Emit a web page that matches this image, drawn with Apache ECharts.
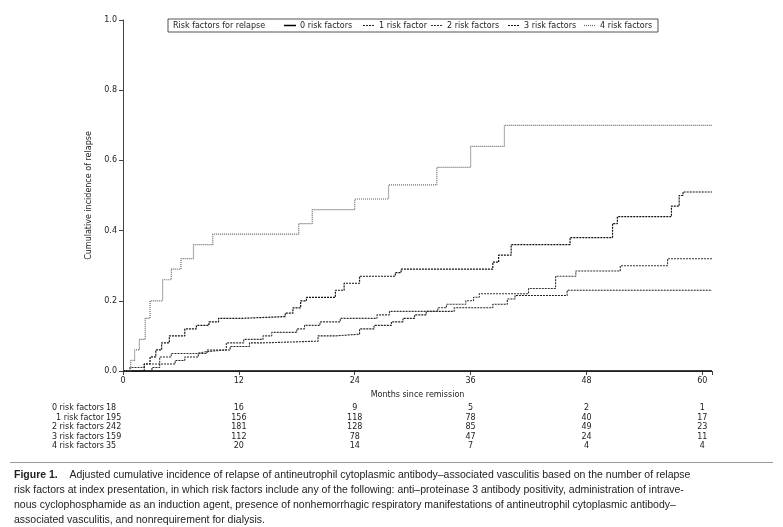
<!DOCTYPE html>
<html><head><meta charset="utf-8">
<script src="https://cdn.jsdelivr.net/npm/echarts@6/dist/echarts.min.js"></script>
<style>body{margin:0;background:#fff}#c{width:783px;height:527px}</style>
</head><body><div id="c"></div>
<script>
// step points: [month, cumulative incidence]
const rf0 = [[0, 0], [61, 0]];
const rf1 = [[0,0],[3,0.01],[3.8,0.02],[5.4,0.03],[6.4,0.04],[7.8,0.05],[8.7,0.06],[11.1,0.07],[13.1,0.08],[14.3,0.085],[20.2,0.1],[22,0.105],[24.5,0.12],[26,0.13],[27.8,0.14],[29,0.15],[30.2,0.16],[31.4,0.17],[34.3,0.18],[38.3,0.19],[39.8,0.205],[40.6,0.215],[46,0.23],[61,0.23]];
const rf2 = [[0,0],[0.7,0.01],[2.2,0.02],[3.8,0.04],[5,0.05],[7.6,0.055],[8.6,0.06],[10.7,0.08],[12.5,0.09],[14.5,0.1],[15.4,0.11],[18,0.12],[18.8,0.13],[20.4,0.14],[22.5,0.15],[26.3,0.16],[27.6,0.17],[32.6,0.18],[33.5,0.19],[35.5,0.2],[36.3,0.21],[36.9,0.22],[42,0.235],[44.8,0.27],[46.9,0.285],[51.5,0.3],[56.4,0.32],[61,0.32]];
const rf3 = [[0,0],[2.2,0.02],[2.8,0.04],[3.4,0.06],[4,0.08],[4.8,0.1],[6.4,0.12],[7.6,0.13],[8.9,0.14],[9.9,0.15],[12.3,0.155],[16.8,0.165],[17.6,0.18],[18.4,0.2],[19,0.21],[22,0.23],[22.9,0.25],[24.5,0.27],[28.2,0.28],[28.8,0.29],[38.3,0.31],[38.9,0.33],[40.2,0.36],[46.3,0.38],[50.7,0.42],[51.2,0.44],[56.8,0.47],[57.6,0.5],[58,0.51],[61,0.51]];
const rf4 = [[0,0],[0.8,0.03],[1.2,0.06],[1.7,0.09],[2.3,0.15],[2.8,0.2],[4.1,0.26],[5,0.29],[6,0.32],[7.3,0.36],[9.3,0.39],[18.2,0.42],[19.6,0.46],[24,0.49],[27.5,0.53],[32.5,0.58],[36,0.64],[39.5,0.70],[61,0.70]];

const seriesNames = ['0 risk factors', '1 risk factor', '2 risk factors', '3 risk factors', '4 risk factors'];
const riskTimes = [0, 12, 24, 36, 48, 60];
const atRisk = [
  [18, 16, 9, 5, 2, 1],
  [195, 156, 118, 78, 40, 17],
  [242, 181, 128, 85, 49, 23],
  [159, 112, 78, 47, 24, 11],
  [35, 20, 14, 7, 4, 4]
];
const xTicks = [0, 12, 24, 36, 48, 60];
const yTicks = [0, 0.2, 0.4, 0.6, 0.8, 1.0];

const chart = echarts.init(document.getElementById('c'));
const styles = [
  {color: '#000', type: 'solid', width: 1.5},
  {color: '#222', type: [2, 1], width: 1.1},
  {color: '#333', type: [2, 1], width: 1.1},
  {color: '#111', type: [2, 1], width: 1.2},
  {color: '#666', type: [1, 1], width: 1.2}
];
const allData = [rf0, rf1, rf2, rf3, rf4];
const font = 'DejaVu Sans';
const capFont = 'Liberation Sans';

chart.setOption({
  animation: false,
  grid: {left: 123, right: 71, top: 20, bottom: 156},
  xAxis: {
    type: 'value', min: 0, max: 61, interval: 12,
    name: 'Months since remission', nameLocation: 'middle', nameGap: 20,
    nameTextStyle: {fontSize: 8, fontFamily: font, color: '#222'},
    axisLine: {lineStyle: {color: '#444'}},
    axisTick: {length: 4, lineStyle: {color: '#444'}},
    axisLabel: {fontSize: 8, fontFamily: font, color: '#222', margin: 6,
      formatter: v => xTicks.includes(v) ? v : ''},
    splitLine: {show: false}
  },
  yAxis: {
    type: 'value', min: 0, max: 1, interval: 0.2,
    name: 'Cumulative incidence of relapse', nameLocation: 'middle', nameGap: 28,
    nameTextStyle: {fontSize: 8, fontFamily: font, color: '#222'},
    axisLine: {show: true, lineStyle: {color: '#444'}},
    axisTick: {show: true, length: 4, lineStyle: {color: '#444'}},
    axisLabel: {fontSize: 8, fontFamily: font, color: '#222', margin: 6,
      formatter: v => yTicks.some(t => Math.abs(t - v) < 1e-9) ? v.toFixed(1) : ''},
    splitLine: {show: false}
  },
  series: allData.map((d, i) => ({
    name: seriesNames[i], type: 'line', step: 'end', data: d,
    symbol: 'none', lineStyle: styles[i], itemStyle: {color: styles[i].color}
  }))
});

const g = [];
// legend box drawn by hand
g.push({type: 'rect', shape: {x: 168, y: 19, width: 490, height: 13}, style: {fill: '#fff', stroke: '#555', lineWidth: 1}});
g.push({type: 'text', x: 173, y: 25.5, style: {text: 'Risk factors for relapse', fontSize: 8, fontFamily: font, fill: '#222', verticalAlign: 'middle'}});
const legX = [284, 363, 431, 508, 584];
seriesNames.forEach((n, i) => {
  g.push({type: 'line', shape: {x1: legX[i], y1: 25.5, x2: legX[i] + 12, y2: 25.5},
    style: {stroke: styles[i].color, lineWidth: styles[i].width, lineDash: styles[i].type === 'solid' ? null : styles[i].type}});
  g.push({type: 'text', x: legX[i] + 16, y: 25.5, style: {text: n, fontSize: 8, fontFamily: font, fill: '#222', verticalAlign: 'middle'}});
});
// number at risk table
atRisk.forEach((row, r) => {
  const y = 408 + r * 9.5;
  g.push({type: 'text', x: 104, y: y, style: {text: seriesNames[r], fontSize: 8, fontFamily: font, fill: '#222', align: 'right', verticalAlign: 'middle'}});
  row.forEach((v, k) => {
    const px = chart.convertToPixel({xAxisIndex: 0}, riskTimes[k]);
    g.push({type: 'text', x: k === 0 ? 106 : px, y: y, style: {text: String(v), fontSize: 8, fontFamily: font, fill: '#222', align: k === 0 ? 'left' : 'center', verticalAlign: 'middle'}});
  });
});
g.push({type: 'rect', shape: {x: 10, y: 462, width: 763, height: 1}, style: {fill: '#999'}});
g.push({type: 'text', x: 14, y: 468, style: {
  rich: {b: {fontWeight: 'bold', fontSize: 10.5, fontFamily: capFont, fill: '#222'}, n: {fontSize: 10.5, fontFamily: capFont, fill: '#222', lineHeight: 15}},
  text: '{b|Figure 1.}{n|    Adjusted cumulative incidence of relapse of antineutrophil cytoplasmic antibody–associated vasculitis based on the number of relapse}\n' +
        '{n|risk factors at index presentation, in which risk factors include any of the following: anti–proteinase 3 antibody positivity, administration of intrave-}\n' +
        '{n|nous cyclophosphamide as an induction agent, presence of nonhemorrhagic respiratory manifestations of antineutrophil cytoplasmic antibody–}\n' +
        '{n|associated vasculitis, and nonrequirement for dialysis.}'
}});
chart.setOption({graphic: g});
</script></body></html>
